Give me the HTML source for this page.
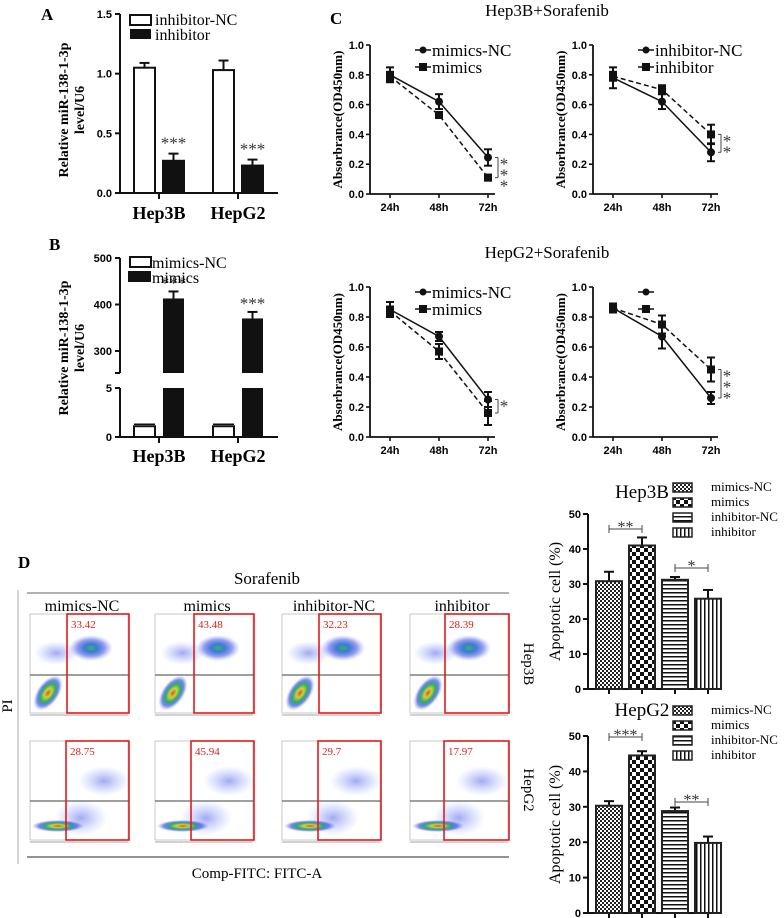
<!DOCTYPE html>
<html><head><meta charset="utf-8"><style>
html,body{margin:0;padding:0;background:#fff;}
svg{display:block;}
text{font-family:"Liberation Serif",serif;}
.ax{font-family:"Liberation Sans",sans-serif;font-weight:bold;font-size:11px;}
</style></head><body>
<svg id="fig" width="784" height="918" viewBox="0 0 784 918" xmlns="http://www.w3.org/2000/svg">
<defs>
<pattern id="pSmall" width="4" height="4" patternUnits="userSpaceOnUse"><rect width="4" height="4" fill="#fff"/><rect width="2" height="2" fill="#222"/><rect x="2" y="2" width="2" height="2" fill="#222"/></pattern>
<pattern id="pBig" width="8" height="8" patternUnits="userSpaceOnUse"><rect width="8" height="8" fill="#fff"/><rect width="4" height="4" fill="#111"/><rect x="4" y="4" width="4" height="4" fill="#111"/></pattern>
<pattern id="pH" width="4" height="4" patternUnits="userSpaceOnUse"><rect width="4" height="4" fill="#fff"/><rect width="4" height="1.5" fill="#111"/></pattern>
<pattern id="pV" width="4" height="4" patternUnits="userSpaceOnUse"><rect width="4" height="4" fill="#fff"/><rect width="1.5" height="4" fill="#111"/></pattern>
<radialGradient id="gLive"><stop offset="0" stop-color="#e05020"/><stop offset="0.25" stop-color="#d0d040"/><stop offset="0.5" stop-color="#30b060"/><stop offset="0.75" stop-color="#2040e0" stop-opacity="0.6"/><stop offset="1" stop-color="#6080ff" stop-opacity="0"/></radialGradient>
<radialGradient id="gApo"><stop offset="0" stop-color="#40b060"/><stop offset="0.3" stop-color="#2070d0" stop-opacity="0.9"/><stop offset="0.65" stop-color="#3040e0" stop-opacity="0.5"/><stop offset="1" stop-color="#6080ff" stop-opacity="0"/></radialGradient>
<radialGradient id="gSparse"><stop offset="0" stop-color="#3040e0" stop-opacity="0.45"/><stop offset="1" stop-color="#6080ff" stop-opacity="0"/></radialGradient>
</defs>
</svg>
<script>
// ---------- data ----------
const aCats = ['Hep3B','HepG2'];
const aNC = [1.05, 1.03];
const aNCErr = [0.04, 0.08];
const aInh = [0.27, 0.23];
const aInhErr = [0.06, 0.05];
const aTicks = [0, 0.5, 1.0, 1.5];

const bNC = [1.1, 1.1];
const bNCErr = [0.2, 0.2];
const bMim = [413, 370];
const bMimErr = [15, 14];

const cTimes = ['24h','48h','72h'];
const cTicks = [0, 0.2, 0.4, 0.6, 0.8, 1.0];
const c1NC = [0.80, 0.62, 0.245];  const c1NCErr = [0.05, 0.05, 0.055];
const c1M  = [0.79, 0.53, 0.11];   const c1MErr  = [0.03, 0.02, 0.02];
const c2NC = [0.78, 0.62, 0.28];   const c2NCErr = [0.07, 0.05, 0.06];
const c2I  = [0.79, 0.70, 0.40];   const c2IErr  = [0.03, 0.03, 0.065];
const c3NC = [0.85, 0.67, 0.25];   const c3NCErr = [0.05, 0.03, 0.05];
const c3M  = [0.84, 0.57, 0.16];   const c3MErr  = [0.03, 0.05, 0.08];
const c4NC = [0.86, 0.67, 0.26];   const c4NCErr = [0.03, 0.08, 0.04];
const c4I  = [0.86, 0.75, 0.45];   const c4IErr  = [0.03, 0.06, 0.08];

const flowGroups = ['mimics-NC','mimics','inhibitor-NC','inhibitor'];
const flowHep3B = ['33.42','43.48','32.23','28.39'];
const flowHepG2 = ['28.75','45.94','29.7','17.97'];

const eGroups = ['mimics-NC','mimics','inhibitor-NC','inhibitor'];
const eHep3B = [30.8, 41.0, 31.2, 25.8];
const eHep3BErr = [2.7, 2.3, 0.8, 2.5];
const eHepG2 = [30.3, 44.5, 28.8, 19.8];
const eHepG2Err = [1.3, 1.2, 1.0, 1.8];
const eTicks = [0, 10, 20, 30, 40, 50];

// ---------- helpers ----------
const svg = document.getElementById('fig');
const NS = 'http://www.w3.org/2000/svg';
function mk(tag, attrs, name, parent){
  const el = document.createElementNS(NS, tag);
  for (const k in attrs) el.setAttribute(k, attrs[k]);
  
  
  (parent || svg).appendChild(el);
  return el;
}
function txt(x, y, s, name, attrs){
  const a = Object.assign({x:x, y:y}, attrs || {});
  const t = mk('text', a, name);
  t.textContent = s;
  return t;
}
function line(x1,y1,x2,y2,name,extra){
  return mk('line', Object.assign({x1:x1,y1:y1,x2:x2,y2:y2,stroke:'#111','stroke-width':1.6}, extra||{}), name);
}
function errBar(x, y1, y2, w, name, both){
  line(x, y1, x, y2, name, {'stroke-width':2});
  line(x-w, y1, x+w, y1, name + '-cap', {'stroke-width':2});
  if (both) line(x-w, y2, x+w, y2, name + '-cap-low', {'stroke-width':2});
}
function stars(x, y, s, name, size, vertical){
  if (vertical){
    for (let i=0;i<s.length;i++) txt(x, y + i*11, '*', name, {'font-size':size||18, 'text-anchor':'middle', fill:'#333'});
  } else txt(x, y, s, name, {'font-size':size||16, 'text-anchor':'middle', fill:'#333'});
}

// ---------- Panel A ----------
txt(41, 20, 'A', 'panel-a-label', {'font-size':17,'font-weight':'bold'});
const yA = v => 193 - v/1.5*179;
line(120, 14, 120, 193, 'a-y-axis', {'stroke-width':2});
line(120, 193, 278, 193, 'a-x-axis', {'stroke-width':2});
aTicks.forEach(t=>{
  line(115, yA(t), 120, yA(t), 'a-y-tick', {'stroke-width':2});
  txt(112, yA(t)+4, t.toFixed(1), 'a-y-tick-label', {'text-anchor':'end','class':'ax','font-size':12});
});
aCats.forEach((c,i)=>{
  const gx = 159 + i*79;
  line(gx, 193, gx, 199, 'a-x-tick', {'stroke-width':2});
  txt(gx, 219, c, 'a-x-label-'+c, {'text-anchor':'middle','font-size':18,'font-weight':'bold'});
  const x1 = gx - 25, x2 = gx + 4, w = 21;
  errBar(x1 + w/2, yA(aNC[i]+aNCErr[i]), yA(aNC[i]), 5, 'a-err-nc');
  mk('rect',{x:x1,y:yA(aNC[i]),width:w,height:193-yA(aNC[i]),fill:'#fff',stroke:'#111','stroke-width':2},'a-bar-nc-'+c);
  errBar(x2 + w/2, yA(aInh[i]+aInhErr[i]), yA(aInh[i]), 5, 'a-err-inh');
  mk('rect',{x:x2,y:yA(aInh[i]),width:w,height:193-yA(aInh[i]),fill:'#111',stroke:'#111','stroke-width':2},'a-bar-inh-'+c);
  stars(x2 + w/2, yA(aInh[i]+aInhErr[i]) - 5, '***', 'a-sig', 17);
});
mk('rect',{x:130,y:15,width:21,height:10,fill:'#fff',stroke:'#111','stroke-width':2},'a-legend-nc-swatch');
txt(155, 25, 'inhibitor-NC', 'a-legend-nc', {'font-size':16});
mk('rect',{x:130,y:29,width:21,height:10,fill:'#111'},'a-legend-inh-swatch');
txt(155, 40, 'inhibitor', 'a-legend-inh', {'font-size':16});
txt(0, 0, 'Relative miR-138-1-3p', 'a-y-title', {'font-size':14,'font-weight':'bold','text-anchor':'middle',transform:'translate(68,110) rotate(-90)'});
txt(0, 0, 'level/U6', 'a-y-title-2', {'font-size':14,'font-weight':'bold','text-anchor':'middle',transform:'translate(84,110) rotate(-90)'});

// ---------- Panel B ----------
txt(49, 250, 'B', 'panel-b-label', {'font-size':17,'font-weight':'bold'});
const yB = v => v <= 5 ? 437 - v*9.8 : 351 - (v-300)*0.465;
line(120, 258, 120, 373, 'b-y-axis-upper', {'stroke-width':2});
line(120, 388, 120, 437, 'b-y-axis-lower', {'stroke-width':2});
line(120, 437, 278, 437, 'b-x-axis', {'stroke-width':2});
line(115, 373, 120, 373, 'b-break-tick', {'stroke-width':2});
[[0,'0'],[5,'5'],[300,'300'],[400,'400'],[500,'500']].forEach(t=>{
  line(115, yB(t[0]), 120, yB(t[0]), 'b-y-tick', {'stroke-width':2});
  txt(112, yB(t[0])+4, t[1], 'b-y-tick-label', {'text-anchor':'end','class':'ax','font-size':12});
});
aCats.forEach((c,i)=>{
  const gx = 159 + i*79;
  line(gx, 437, gx, 443, 'b-x-tick', {'stroke-width':2});
  txt(gx, 462, c, 'b-x-label-'+c, {'text-anchor':'middle','font-size':18,'font-weight':'bold'});
  const x1 = gx - 25, x2 = gx + 4, w = 21;
  mk('rect',{x:x1,y:yB(bNC[i]),width:w,height:437-yB(bNC[i]),fill:'#fff',stroke:'#111','stroke-width':2},'b-bar-nc-'+c);
  line(x1, yB(bNC[i]+bNCErr[i]), x1+w, yB(bNC[i]+bNCErr[i]), 'b-err-nc', {'stroke-width':1.5});
  errBar(x2 + w/2, yB(bMim[i]+bMimErr[i]), yB(bMim[i]), 5, 'b-err-mim');
  mk('rect',{x:x2,y:yB(bMim[i]),width:w,height:373-yB(bMim[i]),fill:'#111'},'b-bar-mim-upper-'+c);
  mk('rect',{x:x2,y:388,width:w,height:49,fill:'#111'},'b-bar-mim-lower-'+c);
  stars(x2 + w/2, yB(bMim[i]+bMimErr[i]) - 3, '***', 'b-sig', 17);
});
mk('rect',{x:130,y:257,width:21,height:10,fill:'#fff',stroke:'#111','stroke-width':2},'b-legend-nc-swatch');
txt(152, 268, 'mimics-NC', 'b-legend-nc', {'font-size':16});
mk('rect',{x:128,y:271,width:23,height:11,fill:'#111'},'b-legend-mim-swatch');
txt(152, 283, 'mimics', 'b-legend-mim', {'font-size':16});
txt(0, 0, 'Relative miR-138-1-3p', 'b-y-title', {'font-size':14,'font-weight':'bold','text-anchor':'middle',transform:'translate(68,348) rotate(-90)'});
txt(0, 0, 'level/U6', 'b-y-title-2', {'font-size':14,'font-weight':'bold','text-anchor':'middle',transform:'translate(84,348) rotate(-90)'});

// ---------- Panel C ----------
txt(330, 24, 'C', 'panel-c-label', {'font-size':17,'font-weight':'bold'});
txt(547, 16, 'Hep3B+Sorafenib', 'c-title-hep3b', {'font-size':17,'text-anchor':'middle'});
txt(547, 258, 'HepG2+Sorafenib', 'c-title-hepg2', {'font-size':17,'text-anchor':'middle'});
function lineChart(p){
  const y = v => p.y0 - v*(p.y0 - p.y1);
  const x = i => p.ax + 20 + i*49;
  line(p.ax, p.y1, p.ax, p.y0, p.id+'-y-axis', {'stroke-width':1.8});
  line(p.ax, p.y0, p.ax+125, p.y0, p.id+'-x-axis', {'stroke-width':1.8});
  cTicks.forEach(t=>{
    line(p.ax-4, y(t), p.ax, y(t), p.id+'-y-tick');
    txt(p.ax-6, y(t)+4, t.toFixed(1), p.id+'-y-tick-label', {'text-anchor':'end','class':'ax'});
  });
  cTimes.forEach((c,i)=>{
    line(x(i), p.y0, x(i), p.y0+4, p.id+'-x-tick');
    txt(x(i), p.y0+17, c, p.id+'-x-tick-label', {'text-anchor':'middle','class':'ax'});
  });
  txt(0,0,'Absorbrance(OD450nm)', p.id+'-y-title', {'font-size':13,'font-weight':'bold','text-anchor':'middle',transform:'translate('+(p.ax-28)+','+((p.y0+p.y1)/2)+') rotate(-90)'});
  const ser = [[p.s1, p.e1, false], [p.s2, p.e2, true]];
  ser.forEach((s, k)=>{
    const pts = s[0].map((v,i)=>x(i)+','+y(v)).join(' ');
    mk('polyline',{points:pts,fill:'none',stroke:'#111','stroke-width':1.5,'stroke-dasharray':s[2]?'5,3':'none'}, p.id+'-line-'+(k?'treat':'nc'));
    s[0].forEach((v,i)=>{
      errBar(x(i), y(v+s[1][i]), y(v-s[1][i]), 4, p.id+'-err', true);
      if (s[2]) mk('rect',{x:x(i)-4,y:y(v)-4,width:8,height:8,fill:'#111'}, p.id+'-point-treat');
      else mk('circle',{cx:x(i),cy:y(v),r:4,fill:'#111'}, p.id+'-point-nc');
    });
  });
  const lx = p.ax + 45;
  line(lx, p.y1+5, lx+16, p.y1+5, p.id+'-legend-nc-line', {'stroke-width':1.5});
  mk('circle',{cx:lx+8,cy:p.y1+5,r:3.5,fill:'#111'}, p.id+'-legend-nc-marker');
  line(lx, p.y1+22, lx+16, p.y1+22, p.id+'-legend-treat-line', {'stroke-width':1.5,'stroke-dasharray':'4,2'});
  mk('rect',{x:lx+4,y:p.y1+18,width:8,height:8,fill:'#111'}, p.id+'-legend-treat-marker');
  if (p.l1) txt(lx+17, p.y1+11, p.l1, p.id+'-legend-nc', {'font-size':17});
  if (p.l2) txt(lx+17, p.y1+28, p.l2, p.id+'-legend-treat', {'font-size':17});
  const a = y(p.s1[2]), b = y(p.s2[2]);
  const bx = x(2) + 10;
  line(bx-3, a, bx, a, p.id+'-sig-bracket', {'stroke-width':1,stroke:'#444'});
  line(bx, a, bx, b, p.id+'-sig-bracket', {'stroke-width':1,stroke:'#444'});
  line(bx-3, b, bx, b, p.id+'-sig-bracket', {'stroke-width':1,stroke:'#444'});
  stars(bx+6, Math.min(a,b)+12, p.sig, p.id+'-sig', 17, true);
}
lineChart({id:'c1', ax:370, y0:194, y1:45, s1:c1NC, e1:c1NCErr, s2:c1M, e2:c1MErr, l1:'mimics-NC', l2:'mimics', sig:'***'});
lineChart({id:'c2', ax:593, y0:194, y1:45, s1:c2NC, e1:c2NCErr, s2:c2I, e2:c2IErr, l1:'inhibitor-NC', l2:'inhibitor', sig:'**'});
lineChart({id:'c3', ax:370, y0:437, y1:287, s1:c3NC, e1:c3NCErr, s2:c3M, e2:c3MErr, l1:'mimics-NC', l2:'mimics', sig:'*'});
lineChart({id:'c4', ax:593, y0:437, y1:287, s1:c4NC, e1:c4NCErr, s2:c4I, e2:c4IErr, l1:'', l2:'', sig:'***'});

// ---------- Panel D ----------
txt(18, 568, 'D', 'panel-d-label', {'font-size':17,'font-weight':'bold'});
txt(267, 584, 'Sorafenib', 'd-title', {'font-size':17,'text-anchor':'middle'});
line(27, 593, 509, 593, 'd-top-rule', {stroke:'#999','stroke-width':1.5});
line(18, 590, 18, 864, 'd-left-rule', {stroke:'#bbb','stroke-width':1.2});
line(27, 857, 509, 857, 'd-bottom-rule', {stroke:'#555','stroke-width':1.2});
txt(257, 878, 'Comp-FITC: FITC-A', 'd-x-title', {'font-size':15,'text-anchor':'middle'});
txt(0, 0, 'PI', 'd-y-title', {'font-size':15,'text-anchor':'middle',transform:'translate(12,706) rotate(-90)'});
txt(0, 0, 'Hep3B', 'd-row-hep3b', {'font-size':15,'text-anchor':'middle',transform:'translate(524,664) rotate(90)'});
txt(0, 0, 'HepG2', 'd-row-hepg2', {'font-size':15,'text-anchor':'middle',transform:'translate(524,790) rotate(90)'});
const colL = [30, 155, 282, 410];
const red1 = [67, 194, 319, 445];
const red2 = [66, 191, 318, 444];
flowGroups.forEach((g,i)=>{
  txt(colL[i]+52, 611, g, 'd-col-label-'+g, {'font-size':16,'text-anchor':'middle'});
  [[614,713,675,red1,flowHep3B,0],[741,840,801,red2,flowHepG2,1]].forEach(r=>{
    const [t,b,q,red,vals,row] = r;
    const L = colL[i], R = L+98, rx = red[i];
    const id = 'd-plot-'+(row?'hepg2':'hep3b')+'-'+g;
    mk('rect',{x:L,y:t,width:98,height:b-t,fill:'#fff',stroke:'#bbb','stroke-width':0.8}, id+'-frame');
    if (row===0){
      mk('ellipse',{cx:0,cy:0,rx:11,ry:20,fill:'url(#gLive)',transform:'translate('+(L+18)+','+(b-20)+') rotate(35)'}, id+'-live-cluster');
      mk('ellipse',{cx:rx+24,cy:q-27,rx:22,ry:13,fill:'url(#gApo)'}, id+'-apoptotic-cluster');
      mk('ellipse',{cx:(L+rx)/2+8,cy:q-22,rx:22,ry:12,fill:'url(#gSparse)'}, id+'-sparse');
    } else {
      mk('ellipse',{cx:L+28,cy:b-14,rx:26,ry:6,fill:'url(#gLive)'}, id+'-live-cluster');
      mk('ellipse',{cx:rx+15,cy:b-22,rx:26,ry:18,fill:'url(#gSparse)'}, id+'-scatter');
      mk('ellipse',{cx:rx+38,cy:q-20,rx:26,ry:15,fill:'url(#gSparse)'}, id+'-apoptotic-cluster');
    }
    line(L, q, R+1, q, id+'-quad-h', {stroke:'#666','stroke-width':1.2});
    mk('rect',{x:rx,y:t,width:R+1-rx,height:b-t,fill:'none',stroke:'#e31b1b','stroke-width':1.6}, id+'-gate');
    txt(rx+4, t+14, vals[i], id+'-pct', {'font-size':11,fill:'#e31b1b'});
    line(L, b+2, R, b+2, id+'-x-axis', {stroke:'#888','stroke-width':0.8});
  });
});

// ---------- Panel E ----------
const pats = ['url(#pSmall)','url(#pBig)','url(#pH)','url(#pV)'];
function eChart(p){
  const y = v => p.y0 - v/50*(p.y0-p.y1);
  const x = i => 609 + i*33;
  line(588, p.y1, 588, p.y0, p.id+'-y-axis', {'stroke-width':2});
  line(588, p.y0, 717, p.y0, p.id+'-x-axis', {'stroke-width':2});
  eTicks.forEach(t=>{
    line(583, y(t), 588, y(t), p.id+'-y-tick', {'stroke-width':2});
    txt(581, y(t)+4, String(t), p.id+'-y-tick-label', {'text-anchor':'end','class':'ax','font-size':12});
  });
  txt(0,0,'Apoptotic cell (%)', p.id+'-y-title', {'font-size':16,'text-anchor':'middle',transform:'translate(560,'+((p.y0+p.y1)/2)+') rotate(-90)'});
  p.vals.forEach((v,i)=>{
    line(x(i), p.y0, x(i), p.y0+5, p.id+'-x-tick', {'stroke-width':2});
    errBar(x(i), y(v+p.err[i]), y(v), 5, p.id+'-err');
    mk('rect',{x:x(i)-13,y:y(v),width:26,height:p.y0-y(v),fill:pats[i],stroke:'#222','stroke-width':2}, p.id+'-bar-'+eGroups[i]);
  });
  txt(642, p.ty, p.title, p.id+'-title', {'font-size':19,'text-anchor':'middle'});
  eGroups.forEach((g,i)=>{
    mk('rect',{x:673,y:p.ly+i*15-5,width:19,height:9,fill:pats[i],stroke:'#222','stroke-width':1.5}, p.id+'-legend-swatch-'+g);
    txt(711, p.ly+i*15+3, g, p.id+'-legend-'+g, {'font-size':13});
  });
  p.sig.forEach(s=>{
    const yy = s[2];
    line(x(s[0]), yy, x(s[1]), yy, p.id+'-sig-bracket', {'stroke-width':1,stroke:'#444'});
    line(x(s[0]), yy-4, x(s[0]), yy+4, p.id+'-sig-bracket-end', {'stroke-width':1,stroke:'#444'});
    line(x(s[1]), yy-4, x(s[1]), yy+4, p.id+'-sig-bracket-end', {'stroke-width':1,stroke:'#444'});
    stars((x(s[0])+x(s[1]))/2, yy+3, s[3], p.id+'-sig', 16);
  });
}
eChart({id:'e-hep3b', y0:689, y1:514, vals:eHep3B, err:eHep3BErr, title:'Hep3B', ty:498, ly:488, sig:[[0,1,529,'**'],[2,3,568,'*']]});
eChart({id:'e-hepg2', y0:913, y1:736, vals:eHepG2, err:eHepG2Err, title:'HepG2', ty:716, ly:711, sig:[[0,1,737,'***'],[2,3,802,'**']]});
</script>
</body></html>
